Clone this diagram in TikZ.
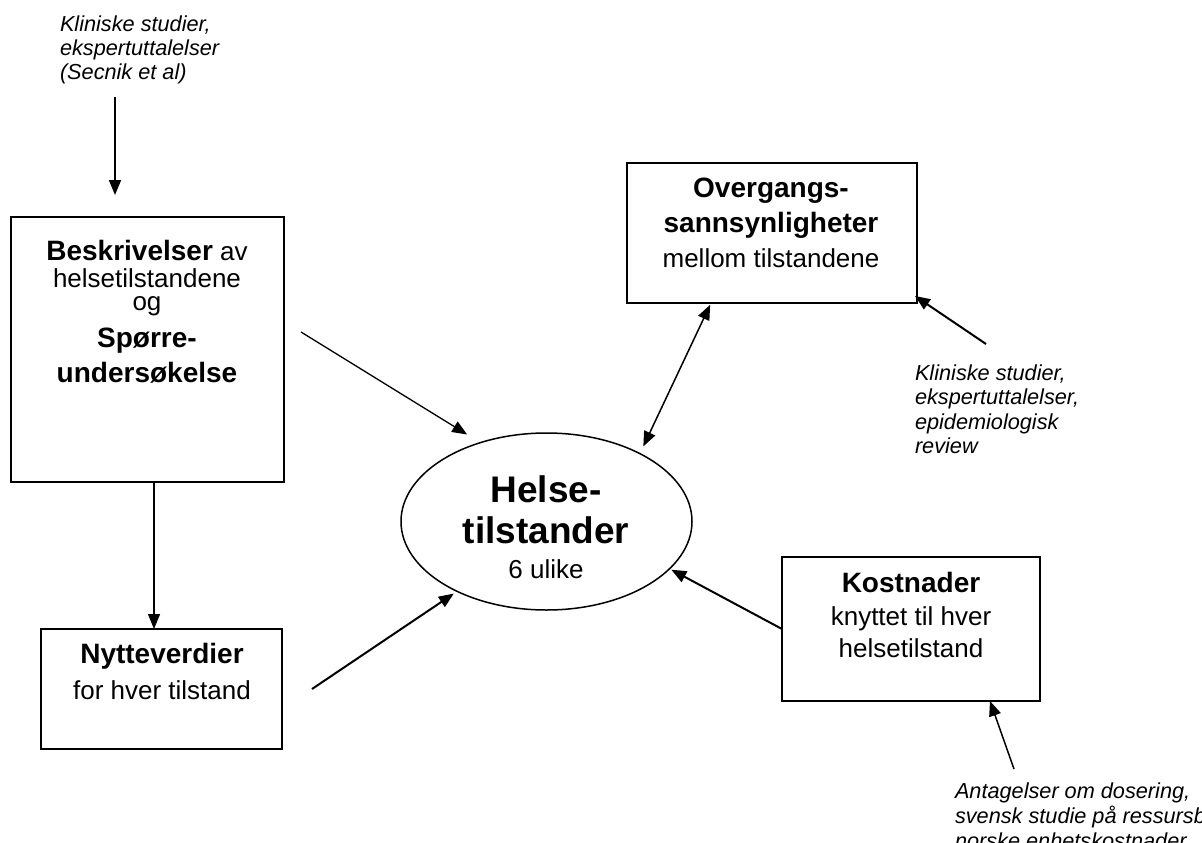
\documentclass[tikz,border=0pt]{standalone}
\usepackage{fontspec}
\setmainfont{Liberation Sans}
\usetikzlibrary{arrows.meta,shapes.geometric,calc}
\newcommand{\fB}{\fontsize{28}{0}\selectfont\bfseries}
\newcommand{\fN}{\fontsize{26}{0}\selectfont\mdseries}
\newcommand{\fH}{\fontsize{37}{0}\selectfont\bfseries}
\newcommand{\fI}{\fontsize{21.7}{0}\selectfont\itshape}
\newcommand{\tb}[3]{\parbox[t]{#1}{\lineskiplimit=-1000pt\lineskip=0pt\baselineskip=0pt#2#3}}
\tikzset{
  box/.style={draw, line width=2pt, inner sep=0pt, outer sep=0pt},
  txt/.style={inner sep=0pt, outer sep=0pt, anchor=base},
  ltxt/.style={inner sep=0pt, outer sep=0pt, anchor=base west},
  arr/.style={-{Triangle[length=15pt,width=12pt]}, line width=1.3pt},
  darr/.style={{Triangle[length=15pt,width=12pt]}-{Triangle[length=15pt,width=12pt]}, line width=1.5pt}
}
\begin{document}
\begin{tikzpicture}[x=1pt,y=-1pt]
\fill[white] (0,0) rectangle (1202,843);
\useasboundingbox (0,0) rectangle (1202,843);
\clip (0,0) rectangle (1202,843);

% boxes
\node[box, minimum width=273pt, minimum height=265pt] (b1) at (147.5,349.5) {};
\node[box, minimum width=241pt, minimum height=120pt] (nyt) at (161.5,689) {};
\node[box, minimum width=290pt, minimum height=140pt] (ov) at (772,233) {};
\node[box, minimum width=258pt, minimum height=144pt] (ko) at (911,629) {};
\node[draw, ellipse, line width=1.5pt, minimum width=291pt, minimum height=177pt, inner sep=0pt, outer sep=0pt] (ell) at (546.5,521.5) {};

% box texts
\node[txt] (b1t) at (147,260) {\tb{300pt}{\centering}{\fN{\fB Beskrivelser} av\\[27pt]helsetilstandene\\[23pt]og\\[37pt]\fB Spørre-\\[35pt]undersøkelse}};
\node[txt] (nytt) at (162,663) {\tb{300pt}{\centering}{\fB Nytteverdier\\[36pt]\fN for hver tilstand}};
\node[txt] (ovt) at (771,197) {\tb{300pt}{\centering}{\fB Overgangs-\\[35pt]sannsynligheter\\[35pt]\fN mellom tilstandene}};
\node[txt] (kot) at (911,592) {\tb{300pt}{\centering}{\fB Kostnader\\[33pt]\fN knyttet til hver\\[32pt]helsetilstand}};
\node[txt] (ellt) at (546,502) {\tb{300pt}{\centering}{\fH Helse-\\[41pt]tilstander\\[35pt]\fN 6 ulike}};

% annotations
\node[ltxt] (srcA) at (60,32) {\tb{300pt}{\raggedright}{\fI Kliniske studier,\\[24pt]ekspertuttalelser\\[24pt](Secnik et al)}};
\node[ltxt] (srcB) at (915,380) {\tb{300pt}{\raggedright}{\fI Kliniske studier,\\[24.5pt]ekspertuttalelser,\\[24.5pt]epidemiologisk\\[24.5pt]review}};
\node[ltxt] (srcC) at (955,798) {\tb{400pt}{\raggedright}{\fI Antagelser om dosering,\\[25pt]svensk studie på ressursbruk,\\[25pt]norske enhetskostnader}};

% coordinates
\coordinate (a1) at (115,97);
\coordinate (vx) at (154,0);
\coordinate (s1) at (301,332);
\coordinate (s2) at (312,689);
\coordinate (dx) at (711,0);
\coordinate (s7) at (986,344);
\coordinate (t7) at ($(ov.south east)+(-2,-7)$);
\coordinate (s8) at (1014,769);
\coordinate (x8) at (990,0);

% connectors
\draw[arr, line width=1.7pt, shorten >=22pt] (a1) -- (a1 |- b1.north);
\draw[arr] (b1.south -| vx) -- (nyt.north -| vx);
\draw[arr, shorten >=15.5pt] (s1) -- (ell.130.8);
\draw[arr, line width=2pt, shorten >=4pt] (s2) -- (ell.218.6);
\draw[arr, line width=2pt, shorten >=2pt] (ko.west) -- (ell.339.4);
\draw[darr, shorten <=2pt, shorten >=8pt] (ov.south -| dx) -- (ell.36);
\draw[arr, line width=2pt] (s7) -- (t7);
\draw[arr, line width=1.5pt] (s8) -- (ko.south -| x8);
\end{tikzpicture}
\end{document}
